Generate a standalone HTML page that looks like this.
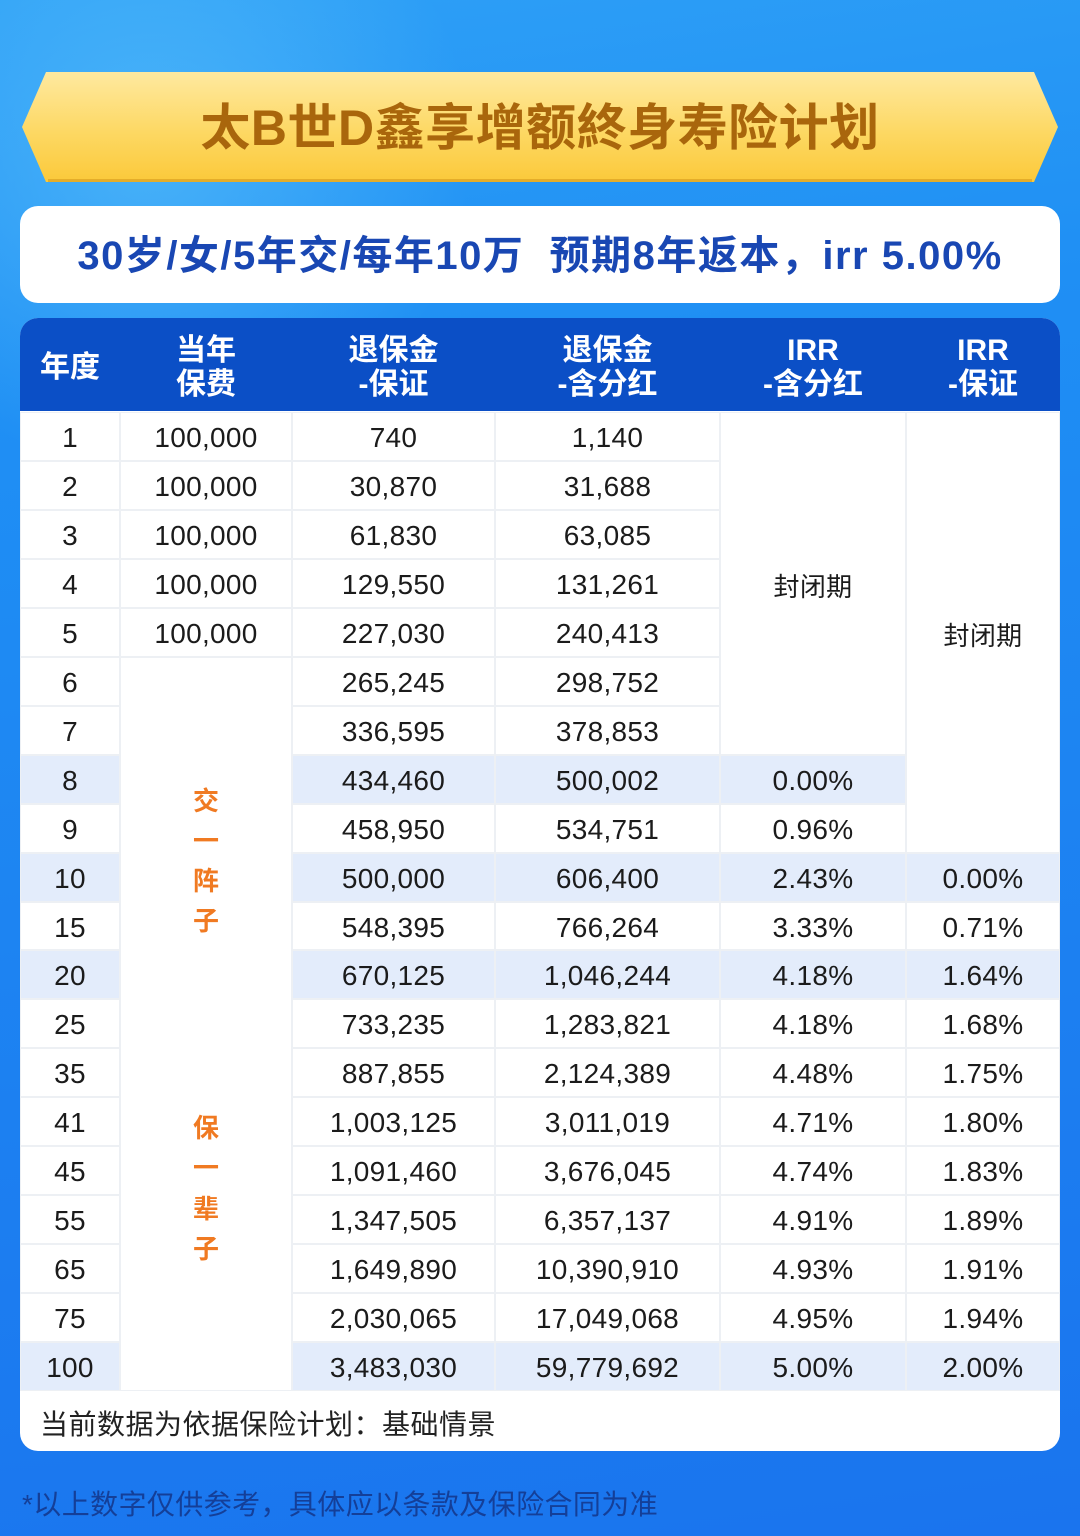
<!DOCTYPE html>
<html><head><meta charset="utf-8">
<style>
*{margin:0;padding:0;box-sizing:border-box}
html,body{width:1080px;height:1536px;overflow:hidden}
body{position:relative;font-family:"Liberation Sans","Noto Sans CJK SC",sans-serif;
background:linear-gradient(172deg,#2ea0f6 0%,#1f8ff4 25%,#1d84f2 55%,#1a74ee 100%);}
.glow{position:absolute;left:-200px;top:-200px;width:700px;height:700px;border-radius:50%;
background:radial-gradient(circle,rgba(120,215,255,0.4) 0%,rgba(120,215,255,0) 65%)}
.abs{position:absolute}
.title{position:absolute;left:0;top:73px;width:1080px;height:110px;text-align:center;line-height:110px;
font-size:50px;font-weight:bold;color:#a9660c;letter-spacing:0.5px}
.sub{position:absolute;left:20px;top:206px;width:1040px;height:97px;background:#fff;border-radius:18px;
text-align:center;line-height:100px;font-size:40px;font-weight:bold;color:#1947b3;letter-spacing:1.5px}
.card{position:absolute;left:20px;top:318px;width:1040px;height:1133px;background:#fff;border-radius:18px;overflow:hidden}
.head{position:absolute;left:0;top:0;width:1040px;height:93px;background:#0b4fc6}
.hc{position:absolute;top:3px;height:93px;display:flex;align-items:center;justify-content:center;text-align:center;
color:#fff;font-weight:bold;font-size:30px;line-height:34px}
.grid{position:absolute;left:0;top:94px;width:1040px;height:979px;background:#edf0f4}
.c{position:absolute;display:flex;align-items:center;justify-content:center;background:#fff;padding-top:3px;
font-size:28px;color:#1b1b1b;letter-spacing:0.3px}
.hl{background:#e3ecfb}
.v{position:absolute;left:100px;width:172px;text-align:center;font-size:26px;font-weight:bold;color:#f07a22;line-height:40px}
.note{position:absolute;left:20px;top:1088px;font-size:28px;color:#222;line-height:38px;letter-spacing:0.5px}
.foot{position:absolute;left:22px;top:1486px;font-size:28px;color:#143f98;line-height:38px;letter-spacing:0.4px}
</style></head><body>
<div class="glow"></div>
<svg class="abs" style="left:0;top:0" width="1080" height="200">
<defs><linearGradient id="g" x1="0" y1="0" x2="0" y2="1">
<stop offset="0" stop-color="#fee9a0"/><stop offset="0.55" stop-color="#fdd863"/><stop offset="1" stop-color="#fbc93a"/></linearGradient></defs>
<polygon points="46,72 1034,72 1058,127 1034,182 46,182 22,127" fill="url(#g)"/>
<line x1="48" y1="180.5" x2="1032" y2="180.5" stroke="#e4ad2a" stroke-width="3"/>
</svg>
<div class="title">太B世D鑫享增额終身寿险计划</div>
<div class="sub">30岁/女/5年交/每年10万&nbsp; 预期8年返本，irr 5.00%</div>
<div class="card">
<div class="head">
<div class="hc" style="left:0;width:100px">年度</div>
<div class="hc" style="left:100px;width:172px">当年<br>保费</div>
<div class="hc" style="left:272px;width:203px">退保金<br>-保证</div>
<div class="hc" style="left:475px;width:225px">退保金<br>-含分红</div>
<div class="hc" style="left:700px;width:186px">IRR<br>-含分红</div>
<div class="hc" style="left:886px;width:154px">IRR<br>-保证</div>
</div>
<div class="grid" id="grid"></div>
<div class="note">当前数据为依据保险计划：基础情景</div>
</div>
<div class="foot">*以上数字仅供参考，具体应以条款及保险合同为准</div>
<script>
(function(){
var cols=[0,100,272,475,700,886,1040];
var rh=48.95;
var data=[
["1","100,000","740","1,140"],
["2","100,000","30,870","31,688"],
["3","100,000","61,830","63,085"],
["4","100,000","129,550","131,261"],
["5","100,000","227,030","240,413"],
["6","","265,245","298,752"],
["7","","336,595","378,853"],
["8","","434,460","500,002","0.00%"],
["9","","458,950","534,751","0.96%"],
["10","","500,000","606,400","2.43%","0.00%"],
["15","","548,395","766,264","3.33%","0.71%"],
["20","","670,125","1,046,244","4.18%","1.64%"],
["25","","733,235","1,283,821","4.18%","1.68%"],
["35","","887,855","2,124,389","4.48%","1.75%"],
["41","","1,003,125","3,011,019","4.71%","1.80%"],
["45","","1,091,460","3,676,045","4.74%","1.83%"],
["55","","1,347,505","6,357,137","4.91%","1.89%"],
["65","","1,649,890","10,390,910","4.93%","1.91%"],
["75","","2,030,065","17,049,068","4.95%","1.94%"],
["100","","3,483,030","59,779,692","5.00%","2.00%"]];
var hlRows={7:1,9:1,11:1,19:1};
var g=document.getElementById('grid');var h='';
function cell(ci,r0,r1,txt,hl){
 var x=cols[ci]+1,w=cols[ci+1]-cols[ci]-2;
 var y=Math.round(r0*rh)+1,y2=Math.round(r1*rh)-1;
 h+='<div class="c'+(hl?' hl':'')+'" style="left:'+x+'px;width:'+w+'px;top:'+y+'px;height:'+(y2-y)+'px">'+txt+'</div>';
}
for(var r=0;r<20;r++){
 var d=data[r],hl=hlRows[r];
 cell(0,r,r+1,d[0],hl);
 if(r<5)cell(1,r,r+1,d[1],hl);
 cell(2,r,r+1,d[2],hl);
 cell(3,r,r+1,d[3],hl);
 if(r>=7)cell(4,r,r+1,d[4],hl);
 if(r>=9)cell(5,r,r+1,d[5],hl);
}
cell(1,5,20,"",0);
cell(4,0,7,'<span style="font-size:26px">封闭期</span>',0);
cell(5,0,9,'<span style="font-size:26px">封闭期</span>',0);
g.innerHTML=h;
})();
</script>
<div class="v" style="top:781px;left:120px">交</div>
<div class="v" style="top:821px;left:120px">一</div>
<div class="v" style="top:861px;left:120px">阵</div>
<div class="v" style="top:901px;left:120px">子</div>
<div class="v" style="top:1108px;left:120px">保</div>
<div class="v" style="top:1148px;left:120px">一</div>
<div class="v" style="top:1189px;left:120px">辈</div>
<div class="v" style="top:1229px;left:120px">子</div>
</body></html>
